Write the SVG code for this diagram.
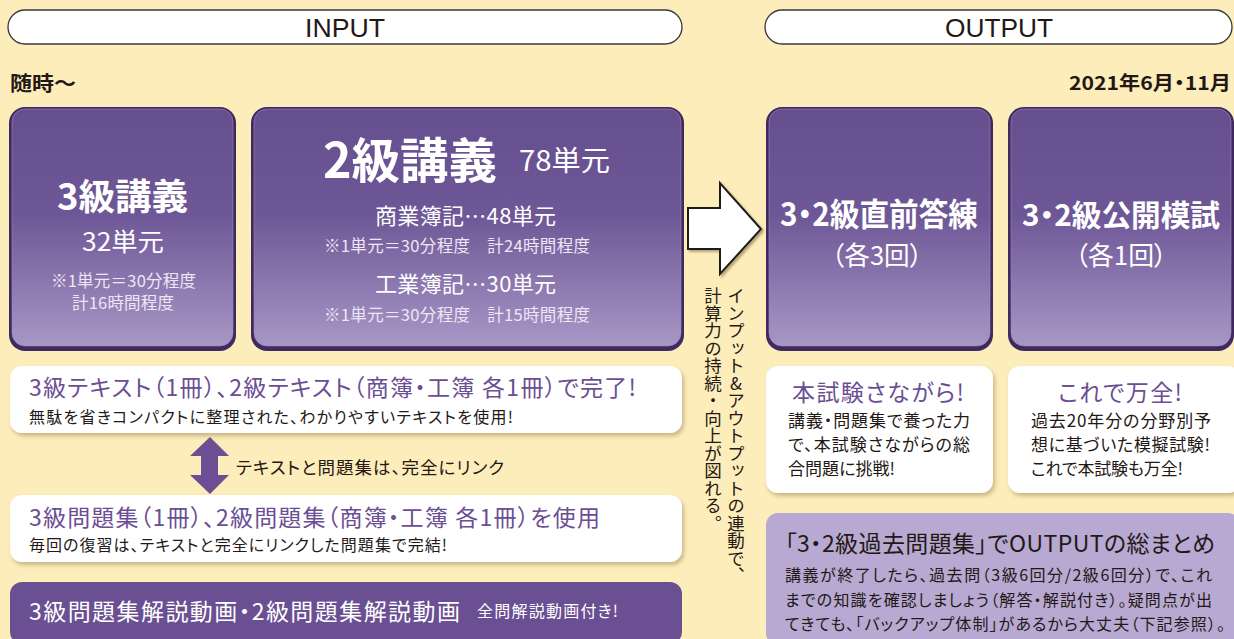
<svg xmlns="http://www.w3.org/2000/svg" width="1234" height="639" viewBox="0 0 1234 639">
<defs>
<linearGradient id="pg" x1="0" y1="0" x2="0" y2="1">
<stop offset="0" stop-color="#664F8F"/>
<stop offset="0.45" stop-color="#6E5797"/>
<stop offset="1" stop-color="#A797C5"/>
</linearGradient>
<filter id="sh" x="-5%" y="-10%" width="110%" height="130%">
<feDropShadow dx="2" dy="3" stdDeviation="2" flood-color="#8A7440" flood-opacity="0.45"/>
</filter>
<filter id="ash" x="-10%" y="-10%" width="130%" height="130%">
<feDropShadow dx="2" dy="2" stdDeviation="1" flood-color="#6B5A30" flood-opacity="0.5"/>
</filter>
</defs>
<style>
text { font-family: "Noto Sans CJK JP", "Noto Sans", sans-serif; font-feature-settings: "palt"; }
.vt { font-feature-settings: normal; writing-mode: vertical-rl; text-orientation: upright; }
.pill { fill: #fff; stroke: #3a3a3a; stroke-width: 1.3; }
.outer { fill: #40295E; }
.inner { fill: url(#pg); stroke: #9C88BD; stroke-width: 1; stroke-opacity: 0.6; }
.card { fill: #fff; filter: url(#sh); }
.w { fill: #fff; }
.b { font-weight: 700; }
.dk { fill: #231815; }
.pu { fill: #6B4E94; }
.lt { fill: #EEE6F6; }
</style>
<rect x="0" y="0" width="1234" height="639" fill="#FDEDBB"/>

<g id="input-header">
<rect class="pill" x="8" y="10" width="674" height="34" rx="17"/>
<text x="345" y="37" text-anchor="middle" font-size="26" class="dk" textLength="80" lengthAdjust="spacingAndGlyphs" style="font-family:'Liberation Sans',sans-serif">INPUT</text>
</g>
<g id="output-header">
<rect class="pill" x="765" y="10" width="467" height="34" rx="17"/>
<text x="999" y="37" text-anchor="middle" font-size="26" class="dk" textLength="108" lengthAdjust="spacingAndGlyphs" style="font-family:'Liberation Sans',sans-serif">OUTPUT</text>
</g>

<text x="10" y="91" font-size="20" class="dk b" textLength="66" lengthAdjust="spacingAndGlyphs">随時〜</text>
<text x="1069" y="90" font-size="19" class="dk b" textLength="162" lengthAdjust="spacingAndGlyphs">2021年6月・11月</text>

<g id="lecture3">
<rect class="outer" x="9" y="107" width="227" height="244" rx="16"/>
<rect class="inner" x="12" y="109" width="221" height="237" rx="13"/>
<text x="57" y="210" font-size="36" class="w b" textLength="131" lengthAdjust="spacingAndGlyphs">3級講義</text>
<text x="82" y="251" font-size="25" class="w" textLength="82" lengthAdjust="spacingAndGlyphs">32単元</text>
<text x="51" y="287" font-size="16.5" class="lt" textLength="145" lengthAdjust="spacing">※1単元＝30分程度</text>
<text x="72" y="309" font-size="16.5" class="lt" textLength="102" lengthAdjust="spacing">計16時間程度</text>
</g>

<g id="lecture2">
<rect class="outer" x="251" y="107" width="433" height="244" rx="16"/>
<rect class="inner" x="254" y="109" width="427" height="237" rx="13"/>
<text x="323" y="178" font-size="48" class="w b" textLength="174" lengthAdjust="spacingAndGlyphs">2級講義</text>
<text x="519" y="171" font-size="28" class="w" textLength="91" lengthAdjust="spacingAndGlyphs">78単元</text>
<text x="375" y="224" font-size="22" class="w" textLength="181" lengthAdjust="spacing">商業簿記…48単元</text>
<text x="324" y="252" font-size="16.5" class="lt" textLength="266" lengthAdjust="spacing">※1単元＝30分程度　計24時間程度</text>
<text x="375" y="292" font-size="22" class="w" textLength="181" lengthAdjust="spacing">工業簿記…30単元</text>
<text x="324" y="321" font-size="16.5" class="lt" textLength="266" lengthAdjust="spacing">※1単元＝30分程度　計15時間程度</text>
</g>

<g id="drill">
<rect class="outer" x="766" y="107" width="227" height="244" rx="16"/>
<rect class="inner" x="769" y="109" width="221" height="237" rx="13"/>
<text x="879" y="226" text-anchor="middle" font-size="32" class="w b" textLength="198" lengthAdjust="spacingAndGlyphs">3・2級直前答練</text>
<text x="877" y="265" text-anchor="middle" font-size="26" class="w" textLength="91" lengthAdjust="spacingAndGlyphs">（各3回）</text>
</g>

<g id="mock">
<rect class="outer" x="1008" y="107" width="226" height="244" rx="16"/>
<rect class="inner" x="1011" y="109" width="220" height="237" rx="13"/>
<text x="1121" y="226" text-anchor="middle" font-size="30" class="w b" textLength="198" lengthAdjust="spacingAndGlyphs">3・2級公開模試</text>
<text x="1121" y="265" text-anchor="middle" font-size="26" class="w" textLength="92" lengthAdjust="spacingAndGlyphs">（各1回）</text>
</g>

<g id="text-card">
<rect class="card" x="10" y="366" width="672" height="67" rx="12"/>
<text x="29" y="396" font-size="23" class="pu" textLength="607" lengthAdjust="spacing">3級テキスト（1冊）、2級テキスト（商簿・工簿 各1冊）で完了!</text>
<text x="29" y="423" font-size="16" class="dk" textLength="484" lengthAdjust="spacing">無駄を省きコンパクトに整理された、わかりやすいテキストを使用!</text>
</g>

<g id="workbook-card">
<rect class="card" x="10" y="495" width="672" height="67" rx="12"/>
<text x="29" y="526" font-size="23" class="pu" textLength="571" lengthAdjust="spacing">3級問題集（1冊）、2級問題集（商簿・工簿 各1冊）を使用</text>
<text x="29" y="551" font-size="16" class="dk" textLength="418" lengthAdjust="spacing">毎回の復習は、テキストと完全にリンクした問題集で完結!</text>
</g>

<g id="video-card">
<rect x="10" y="582" width="672" height="62" rx="12" fill="#6A4F93"/>
<text x="29" y="620" font-size="23" class="w" textLength="431" lengthAdjust="spacing">3級問題集解説動画・2級問題集解説動画</text>
<text x="477" y="617" font-size="16" class="w" textLength="141" lengthAdjust="spacing">全問解説動画付き!</text>
</g>

<g id="exam-card">
<rect class="card" x="766" y="366" width="227" height="127" rx="12"/>
<text x="792" y="401" font-size="23" class="pu" textLength="172" lengthAdjust="spacing">本試験さながら!</text>
<text x="788" y="427" font-size="17" class="dk" textLength="182" lengthAdjust="spacing">講義・問題集で養った力</text>
<text x="788" y="451" font-size="17" class="dk" textLength="182" lengthAdjust="spacing">で、本試験さながらの総</text>
<text x="788" y="475" font-size="17" class="dk" textLength="107" lengthAdjust="spacing">合問題に挑戦!</text>
</g>

<g id="perfect-card">
<rect class="card" x="1008" y="366" width="232" height="127" rx="12"/>
<text x="1058" y="401" font-size="23" class="pu" textLength="124" lengthAdjust="spacing">これで万全!</text>
<text x="1031" y="427" font-size="17" class="dk" textLength="180" lengthAdjust="spacing">過去20年分の分野別予</text>
<text x="1031" y="451" font-size="17" class="dk" textLength="179" lengthAdjust="spacing">想に基づいた模擬試験!</text>
<text x="1031" y="475" font-size="17" class="dk" textLength="152" lengthAdjust="spacing">これで本試験も万全!</text>
</g>

<g id="past-exam-card">
<rect x="766" y="513" width="474" height="132" rx="12" fill="#B7A9D1"/>
<text x="785" y="552" font-size="23" class="dk" textLength="430" lengthAdjust="spacing">「3・2級過去問題集」でOUTPUTの総まとめ</text>
<text x="785" y="581" font-size="16" class="dk" textLength="427" lengthAdjust="spacing">講義が終了したら、過去問（3級6回分/2級6回分）で、これ</text>
<text x="785" y="606" font-size="16" class="dk" textLength="427" lengthAdjust="spacing">までの知識を確認しましょう（解答・解説付き）。疑問点が出</text>
<text x="785" y="630" font-size="16" class="dk" textLength="440" lengthAdjust="spacing">てきても、「バックアップ体制」があるから大丈夫（下記参照）。</text>
</g>

<g id="connectors">
<polygon points="688,208 720,208 720,183 761,229 720,274 720,249 688,249" fill="#fff" stroke="#1a1a1a" stroke-width="2" stroke-linejoin="miter" filter="url(#ash)"/>
<polygon points="210,437 229,456 218,456 218,475 229,475 210,494 190,475 201,475 201,456 190,456" fill="#6B4E94"/>
<text x="236" y="474" font-size="17.5" class="dk" textLength="268" lengthAdjust="spacing">テキストと問題集は、完全にリンク</text>
<text x="736" y="287" font-size="17.5" class="dk vt">インプット&amp;アウトプットの連動で、</text>
<text x="713" y="287" font-size="17.5" class="dk vt">計算力の持続・向上が図れる。</text>
</g>
</svg>
